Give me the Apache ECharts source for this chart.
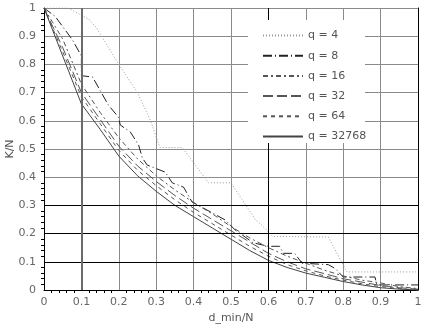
<!DOCTYPE html>
<html><head><meta charset="utf-8">
<script src="https://cdn.jsdelivr.net/npm/echarts@6/dist/echarts.min.js"></script>
<style>html,body{margin:0;padding:0;background:#fff}#c{width:425px;height:328px}</style>
</head><body><div id="c"></div>
<script>
const seriesNames = ['q = 4', 'q = 8', 'q = 16', 'q = 32', 'q = 64', 'q = 32768'];
const xTicks = [0, 0.1, 0.2, 0.3, 0.4, 0.5, 0.6, 0.7, 0.8, 0.9, 1];
const q4x = [0, 0.065, 0.12, 0.14, 0.2, 0.25, 0.285, 0.31, 0.37, 0.44, 0.5, 0.565, 0.59, 0.61, 0.76, 0.81, 1.0];
const q4y = [1, 1, 0.96, 0.93, 0.8, 0.7, 0.6, 0.505, 0.505, 0.38, 0.38, 0.25, 0.22, 0.19, 0.188, 0.064, 0.064];
const q8x = [0, 0.03, 0.076, 0.1, 0.1, 0.13, 0.172, 0.199, 0.204, 0.231, 0.253, 0.263, 0.276, 0.324, 0.343, 0.373, 0.396, 0.445, 0.485, 0.511, 0.56, 0.6, 0.63, 0.64, 0.67, 0.69, 0.76, 0.78, 0.8, 0.885, 0.89, 1.0];
const q8y = [1, 0.97, 0.887, 0.83, 0.76, 0.755, 0.656, 0.613, 0.585, 0.56, 0.514, 0.468, 0.443, 0.418, 0.38, 0.365, 0.312, 0.277, 0.248, 0.213, 0.167, 0.155, 0.155, 0.13, 0.13, 0.095, 0.09, 0.075, 0.046, 0.046, 0.018, 0.018];
const q16x = [0, 0.05, 0.1, 0.15, 0.2, 0.25, 0.3, 0.35, 0.4, 0.45, 0.5, 0.55, 0.6, 0.65, 0.7, 0.75, 0.8, 0.85, 0.9, 0.95, 1.0];
const q16y = [1, 0.89, 0.73, 0.63, 0.54, 0.465, 0.405, 0.355, 0.31, 0.27, 0.225, 0.185, 0.15, 0.12, 0.095, 0.07, 0.05, 0.035, 0.025, 0.012, 0.005];
const q32x = [0, 0.05, 0.1, 0.15, 0.2, 0.25, 0.3, 0.35, 0.4, 0.45, 0.5, 0.55, 0.6, 0.65, 0.7, 0.75, 0.8, 0.85, 0.9, 0.95, 1.0];
const q32y = [1, 0.86, 0.7, 0.605, 0.51, 0.44, 0.385, 0.335, 0.29, 0.25, 0.21, 0.17, 0.13, 0.1, 0.075, 0.058, 0.04, 0.028, 0.016, 0.008, 0.003];
const q64x = [0, 0.05, 0.1, 0.15, 0.2, 0.25, 0.3, 0.35, 0.4, 0.45, 0.5, 0.55, 0.6, 0.65, 0.7, 0.75, 0.8, 0.85, 0.9, 0.95, 1.0];
const q64y = [1, 0.845, 0.685, 0.59, 0.495, 0.425, 0.37, 0.32, 0.275, 0.235, 0.195, 0.155, 0.12, 0.09, 0.068, 0.05, 0.035, 0.022, 0.012, 0.005, 0.0];
const qbx = [0, 0.05, 0.1, 0.15, 0.2, 0.25, 0.3, 0.35, 0.4, 0.45, 0.5, 0.55, 0.6, 0.65, 0.7, 0.75, 0.8, 0.85, 0.9, 0.95, 1.0];
const qby = [1, 0.83, 0.66, 0.57, 0.475, 0.405, 0.35, 0.3, 0.26, 0.22, 0.18, 0.14, 0.105, 0.08, 0.06, 0.045, 0.03, 0.018, 0.008, 0.003, 0];

const xs = [q4x, q8x, q16x, q32x, q64x, qbx];
const ys = [q4y, q8y, q16y, q32y, q64y, qby];
const colors = ['#9a9a9a', '#222', '#555', '#555', '#555', '#444'];
const dashes = [[1, 2], [9, 3, 1, 3], [5, 3, 2, 3], [10, 4], [4, 4], 'solid'];

const chart = echarts.init(document.getElementById('c'), null, {renderer: 'canvas'});
const series = seriesNames.map((n, i) => ({
  name: n, type: 'line', symbol: 'none', z: 3,
  data: xs[i].map((x, j) => [x, ys[i][j]]),
  lineStyle: {color: colors[i], width: 1, type: dashes[i]},
  itemStyle: {color: colors[i]}
}));
series.push({
  type: 'line', data: [], z: 1, silent: true,
  markLine: {
    silent: true, symbol: 'none', label: {show: false}, animation: false,
    data: [
      {yAxis: 0.1, lineStyle: {color: '#000', width: 1, type: 'solid'}},
      {yAxis: 0.2, lineStyle: {color: '#000', width: 1, type: 'solid'}},
      {yAxis: 0.3, lineStyle: {color: '#000', width: 1, type: 'solid'}},
      {xAxis: 0.6, lineStyle: {color: '#000', width: 1, type: 'solid'}},
      {xAxis: 0.1, lineStyle: {color: '#6a6a6a', width: 2, type: 'solid'}}
    ]
  }
});

chart.setOption({
  animation: false,
  backgroundColor: '#fff',
  grid: {left: 44, right: 7, top: 8, bottom: 38, containLabel: false, outerBoundsMode: 'none'},
  graphic: [{type: 'rect', z: 10, shape: {x: 248, y: 20, width: 117, height: 123}, style: {fill: '#fff'}}],
  legend: {
    z: 20, orient: 'vertical', left: 257, top: 25, itemWidth: 40, itemHeight: 10, itemGap: 9.2,
    itemStyle: {opacity: 0},
    textStyle: {color: '#555', fontSize: 11, fontFamily: 'DejaVu Sans'},
    data: seriesNames
  },
  xAxis: {
    type: 'value', min: 0, max: 1, interval: 0.1,
    name: 'd_min/N', nameLocation: 'middle', nameGap: 23, nameMoveOverlap: false,
    nameTextStyle: {color: '#555', fontSize: 11, fontFamily: 'DejaVu Sans'},
    axisLine: {lineStyle: {color: '#000'}},
    axisTick: {show: false},
    minorTick: {show: true, splitNumber: 5, inside: true, length: 3, lineStyle: {color: '#000'}},
    axisLabel: {color: '#666', fontSize: 11, margin: 7, fontFamily: 'DejaVu Sans'},
    splitLine: {show: true, lineStyle: {color: '#8a8a8a', width: 1}}
  },
  yAxis: [{
    type: 'value', min: 0, max: 1, interval: 0.1,
    name: 'K/N', nameLocation: 'middle', nameGap: 28, nameMoveOverlap: false,
    nameTextStyle: {color: '#555', fontSize: 11, fontFamily: 'DejaVu Sans'},
    axisLine: {show: true, lineStyle: {color: '#000'}},
    axisTick: {show: false},
    minorTick: {show: true, splitNumber: 5, inside: true, length: 3, lineStyle: {color: '#000'}},
    axisLabel: {color: '#666', fontSize: 11, margin: 8, fontFamily: 'DejaVu Sans'},
    splitLine: {show: true, lineStyle: {color: '#8a8a8a', width: 1}}
  }, {
    type: 'value', min: 0, max: 1, position: 'right',
    axisLine: {show: true, lineStyle: {color: '#000'}},
    axisTick: {show: false}, axisLabel: {show: false}, splitLine: {show: false}
  }],
  series: series
});
</script></body></html>
